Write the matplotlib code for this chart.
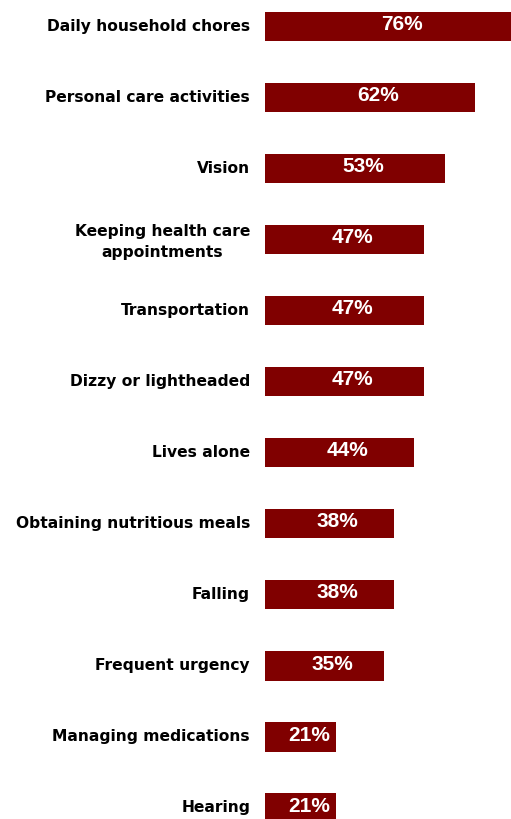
import matplotlib
matplotlib.use("Agg")
import matplotlib.pyplot as plt
import matplotlib.transforms as mtransforms

categories = [
    "Daily household chores",
    "Personal care activities",
    "Vision",
    "Keeping health care\nappointments",
    "Transportation",
    "Dizzy or lightheaded",
    "Lives alone",
    "Obtaining nutritious meals",
    "Falling",
    "Frequent urgency",
    "Managing medications",
    "Hearing",
]
values = [76, 62, 53, 47, 47, 47, 44, 38, 38, 35, 21, 21]

bar_color = "#800000"

fig = plt.figure(figsize=(5.11, 8.19), dpi=100)
W, H = 511.0, 819.0

# axes run past the right and bottom edge of the figure
x_max = 80
px_per_unit = 3.387
ax_left = 265 / W
ax_width = x_max * px_per_unit / W
step = 71.05
top_px = 26.5 - step / 2
bottom_px = 26.5 + step * (len(categories) - 0.5)
ax = fig.add_axes([ax_left, (H - bottom_px) / H, ax_width, (bottom_px - top_px) / H])

ypos = list(range(len(categories)))
ax.barh(ypos, values, height=0.41, color=bar_color)
ax.set_xlim(0, x_max)
ax.set_ylim(len(categories) - 0.5, -0.5)

for y, v in zip(ypos, values):
    ax.annotate(f"{v}%", xy=(v / 2, y), xytext=(6, 1.4), textcoords="offset points",
                ha="center", va="center", color="white", fontsize=15,
                fontweight="bold", family="Liberation Sans")

ax.set_yticks(ypos)
ax.set_yticklabels(categories, fontsize=11.2, fontweight="bold",
                   family="DejaVu Sans", multialignment="center", linespacing=1.5)
ax.tick_params(axis="y", length=0, pad=10.8)
# nudge category labels up a little
shift = mtransforms.ScaledTranslation(0, 2 / 100, fig.dpi_scale_trans)
for lbl in ax.get_yticklabels():
    lbl.set_transform(lbl.get_transform() + shift)
ax.set_xticks([])
for s in ax.spines.values():
    s.set_visible(False)

fig.savefig("out.png", dpi=100)
